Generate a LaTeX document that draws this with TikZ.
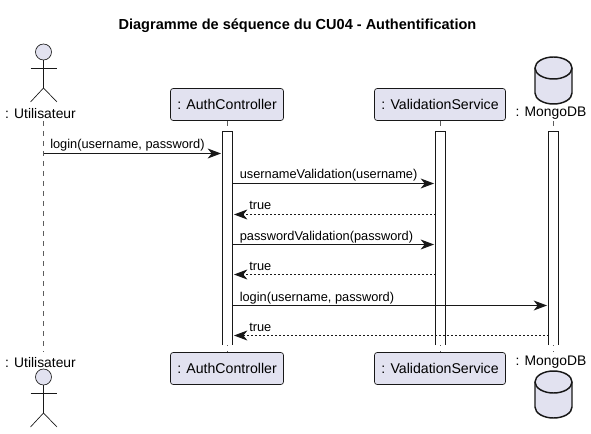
\documentclass[tikz,border=0pt]{standalone}
\usepackage{fontspec}
\setmainfont{Liberation Sans}
\usetikzlibrary{arrows.meta}
\definecolor{partfill}{HTML}{E2E2F0}
\definecolor{partline}{HTML}{181818}
\tikzset{
  partbox/.style={draw=partline,fill=partfill,rounded corners=2pt,line width=0.5pt,minimum width=#1,minimum height=24pt,inner sep=0pt,font=\fontsize{10.6}{12}\selectfont},
  partlabel/.style={inner sep=0pt,font=\fontsize{10.4}{12}\selectfont},
  msglabel/.style={inner sep=0pt,anchor=base west,font=\fontsize{9.6}{12}\selectfont},
  lifeline/.style={partline!70,line width=0.5pt,dash pattern=on 3.75pt off 3.75pt},
  activebar/.style={partline,line width=0.75pt},
  call/.style={partline,line width=0.75pt,-{Stealth[length=10pt,width=7.5pt,inset=3pt]}},
  reply/.style={partline,line width=0.5pt,dash pattern=on 1.5pt off 1.5pt,-{Stealth[length=10pt,width=7.5pt,inset=3pt,line width=0.75pt]}},
  figure/.style={draw=partline,line width=0.5pt},
  database/.style={draw=partline,line width=1.1pt,fill=partfill}
}
\begin{document}
\begin{tikzpicture}[x=0.75pt,y=-0.75pt]
\useasboundingbox[fill=white] (0,0) rectangle (591,434);
\node[font=\fontsize{10.9}{12}\selectfont\bfseries] (title) at (297.5,26) {Diagramme de séquence du CU04 - Authentification};
% participants
\node[partlabel] (userTop) at (40.5,113.5) {: Utilisateur};
\node[partlabel] (userBot) at (40.5,362.5) {: Utilisateur};
\node[partbox=84.75pt] (authTop) at (227,104.5) {: AuthController};
\node[partbox=84.75pt] (authBot) at (227,368.5) {: AuthController};
\node[partbox=98.25pt] (validTop) at (440,104.5) {: ValidationService};
\node[partbox=98.25pt] (validBot) at (440,368.5) {: ValidationService};
\node[partlabel] (mongoTop) at (551,113.5) {: MongoDB};
\node[partlabel] (mongoBot) at (551,362.5) {: MongoDB};
% lifelines
\coordinate (userA) at (43.5,121);
\coordinate (userB) at (43.5,352);
\coordinate (mongoA) at (553.5,121);
\coordinate (mongoB) at (553.5,352);
\draw[lifeline] (userA) -- (userB);
\draw[lifeline] (authTop.south) -- (authBot.north);
\draw[lifeline] (validTop.south) -- (validBot.north);
\draw[lifeline] (mongoA) -- (mongoB);
% activation bars, open at the bottom
\foreach \x in {222.5,435.5,548.5} {
  \fill[white] (\x,131.5) rectangle (\x+10,345);
  \draw[activebar] (\x,345) -- (\x,131.5) -- (\x+10,131.5) -- (\x+10,345);
}
% actors
\foreach \name/\y in {top/52,bot/377} {
  \node[circle,figure,fill=partfill,minimum size=12pt,inner sep=0pt] (head\name) at (43.5,\y) {};
  \coordinate (body\name) at (43.5,\y+36);
  \draw[figure] (head\name) -- (body\name);
  \draw[figure] (30.5,\y+16) -- (57,\y+16);
  \draw[figure] (30.5,\y+50) -- (body\name) -- (57,\y+50);
}
% database
\foreach \y in {57,371} {
  \draw[database] (535,\y+11) arc[start angle=180,end angle=360,x radius=18.5,y radius=11]
    -- (572,\y+36) arc[start angle=0,end angle=180,x radius=18.5,y radius=11] -- cycle;
  \draw[database,fill=none] (535,\y+11) arc[start angle=180,end angle=0,x radius=18.5,y radius=11];
}
% messages
\foreach \name/\from/\to/\y/\kind in {
  m1/43.5/221/153.5/call,
  m2/232.5/434/183.5/call,
  m3/435.5/234/214.5/reply,
  m4/232.5/434/244.5/call,
  m5/435.5/234/274.5/reply,
  m6/232.5/547/305.5/call,
  m7/548.5/234/335.5/reply} {
  \coordinate (\name a) at (\from,\y);
  \coordinate (\name b) at (\to,\y);
  \draw[\kind] (\name a) -- (\name b);
}
\node[msglabel] (l1) at (50,149) {login(username, password)};
\node[msglabel] (l2) at (239.5,178.5) {usernameValidation(username)};
\node[msglabel] (l3) at (249,209.5) {true};
\node[msglabel] (l4) at (239.5,240) {passwordValidation(password)};
\node[msglabel] (l5) at (249,270.5) {true};
\node[msglabel] (l6) at (239.5,301) {login(username, password)};
\node[msglabel] (l7) at (249,331.5) {true};
\end{tikzpicture}
\end{document}
